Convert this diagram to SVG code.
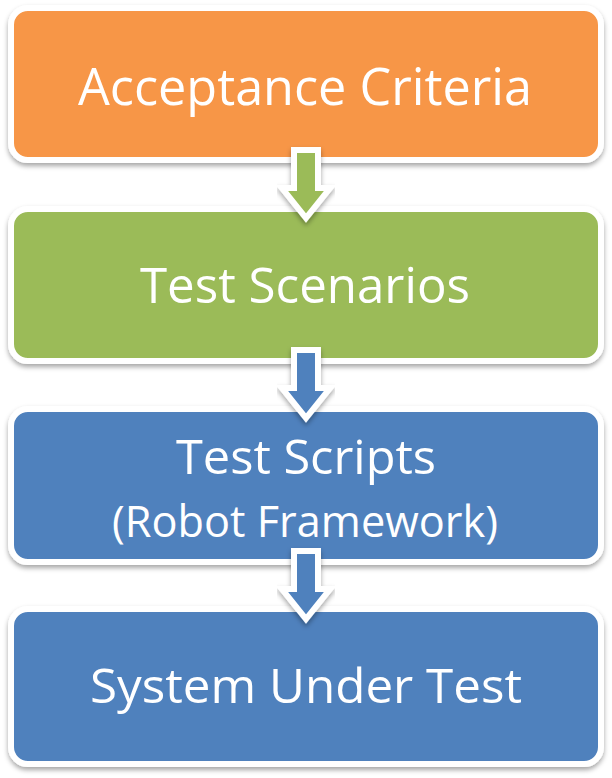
<svg xmlns="http://www.w3.org/2000/svg" width="612" height="778" viewBox="0 0 612 778">
<defs>
<filter id="sh" x="-10%" y="-10%" width="120%" height="130%">
<feDropShadow dx="0" dy="3" stdDeviation="2.5" flood-color="#000" flood-opacity="0.35"/>
</filter>
<style>
.box{stroke:#fff;stroke-width:6;filter:url(#sh)}
.arr{stroke:#fff;stroke-width:6;stroke-linejoin:miter;filter:url(#sh)}
.t{fill:#fff;font-family:"Open Sans","Noto Sans",sans-serif;text-anchor:middle}
</style>
</defs>
<rect width="612" height="778" fill="#fff"/>
<g id="n1"><rect class="box" x="11" y="8" width="590" height="152" rx="17" fill="#F79646"/>
<text class="t" x="305" y="105" font-size="52" textLength="454" lengthAdjust="spacingAndGlyphs">Acceptance Criteria</text></g>
<g id="n2"><rect class="box" x="11" y="209" width="590" height="152" rx="17" fill="#9BBB59"/>
<text class="t" x="305" y="303" font-size="49" textLength="330" lengthAdjust="spacingAndGlyphs">Test Scenarios</text></g>
<g id="n3"><rect class="box" x="11" y="409" width="590" height="153" rx="17" fill="#4F81BD"/>
<text class="t" x="306" y="474" font-size="48" textLength="260" lengthAdjust="spacingAndGlyphs">Test Scripts</text>
<text class="t" x="305" y="537" font-size="44" textLength="386" lengthAdjust="spacingAndGlyphs">(Robot Framework)</text></g>
<g id="n4"><rect class="box" x="11" y="609" width="590" height="155" rx="17" fill="#4F81BD"/>
<text class="t" x="306" y="703" font-size="48" textLength="432" lengthAdjust="spacingAndGlyphs">System Under Test</text></g>
<g id="connectors">
<polygon class="arr" fill="#9BBB59" points="294,150 318,150 318,188 330,188 306,218 282,188 294,188"/>
<polygon class="arr" fill="#4F81BD" points="294,350 318,350 318,388 330,388 306,418 282,388 294,388"/>
<polygon class="arr" fill="#4F81BD" points="294,551 318,551 318,589 330,589 306,619 282,589 294,589"/>
</g>
</svg>
